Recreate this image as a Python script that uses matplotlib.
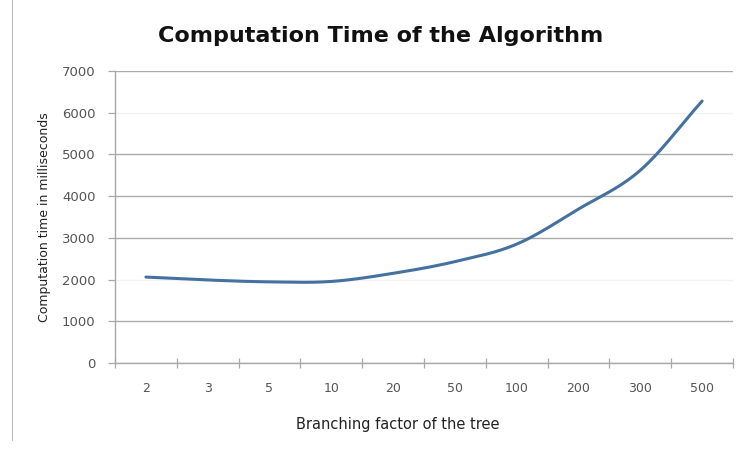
import numpy as np
import matplotlib
matplotlib.use("Agg")
import matplotlib.pyplot as plt
from matplotlib.lines import Line2D

categories = ["2", "3", "5", "10", "20", "50", "100", "200", "300", "500"]
times_ms = [2060, 1990, 1945, 1955, 2150, 2430, 2850, 3690, 4620, 6280]
y_ticks = [0, 1000, 2000, 3000, 4000, 5000, 6000, 7000]

title = "Computation Time of the Algorithm"
xlabel = "Branching factor of the tree"
ylabel = "Computation time in milliseconds"

plt.rcParams['font.family'] = ['DejaVu Sans']

fig = plt.figure(figsize=(7.37, 4.5), dpi=100)
ax = fig.add_axes([115/737, 1-363/450, (733-115)/737, (363-71)/450])

# smoothed line (Catmull-Rom through the data points, like Excel smoothing)
x = np.arange(len(categories), dtype=float)
y = np.array(times_ms, dtype=float)
px = np.concatenate([[2*x[0]-x[1]], x, [2*x[-1]-x[-2]]])
py = np.concatenate([[2*y[0]-y[1]], y, [2*y[-1]-y[-2]]])
xs, ys = [], []
t = np.linspace(0, 1, 30)
for i in range(1, len(px)-2):
    p0, p1, p2, p3 = (px[i-1], py[i-1]), (px[i], py[i]), (px[i+1], py[i+1]), (px[i+2], py[i+2])
    for k in range(2):
        a, b, c, d = p0[k], p1[k], p2[k], p3[k]
        v = 0.5*((2*b) + (-a+c)*t + (2*a-5*b+4*c-d)*t**2 + (-a+3*b-3*c+d)*t**3)
        (xs if k == 0 else ys).append(v)
xs = np.concatenate(xs); ys = np.concatenate(ys)
ax.plot(xs, ys, color="#44719f", lw=2.2, solid_capstyle="round", zorder=3)

ax.set_xlim(-0.5, len(categories)-0.5)
ax.set_ylim(0, 7000)
ax.set_yticks(y_ticks)
ax.set_yticklabels([str(v) for v in y_ticks], fontsize=9.5, color="#555555")
ax.set_xticks(x)
ax.set_xticklabels(categories, fontsize=9, color="#555555")
ax.tick_params(axis='x', length=0, pad=14)
ax.set_xticks(np.arange(-0.5, len(categories)), minor=True)
ax.tick_params(axis='x', which='minor', length=7, color="#a8a8a8", width=0.9, direction='inout')
ax.tick_params(axis='y', length=5, color="#a8a8a8", width=0.9, pad=9)

ax.grid(axis='y', color="#aaaaaa", lw=1.0)
gl = ax.yaxis.get_gridlines()
for idx in (2, 6):
    gl[idx].set_color("#f2f2f2")
ax.set_axisbelow(True)
for s in ["top", "right"]:
    ax.spines[s].set_visible(False)
for s in ["left", "bottom"]:
    ax.spines[s].set_color("#a8a8a8")
    ax.spines[s].set_linewidth(1.0)

fig.text(398/737, 1-425/450, xlabel, ha="center", va="center", fontsize=10.5, color="#222222")
fig.text(45/737, 1-217/450, ylabel, ha="center", va="center", rotation=90, fontsize=9, color="#222222")
fig.text(381/737, 1-36/450, title, ha="center", va="center", fontsize=16, fontweight="bold", color="#111111")

fig.add_artist(Line2D([12/737, 12/737], [1-440/450, 1.0], color="#bbbbbb", lw=0.8))

fig.savefig("out.png", dpi=100)
